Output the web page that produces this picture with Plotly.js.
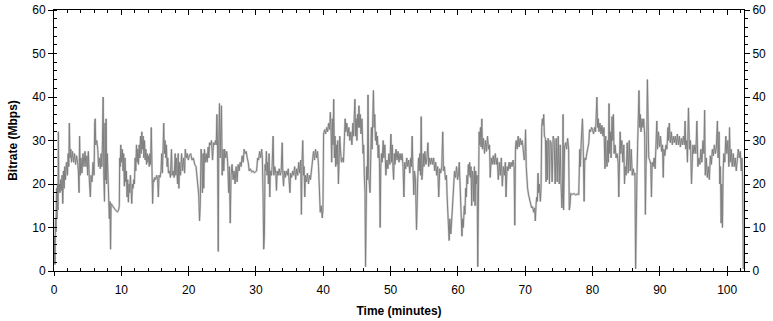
<!DOCTYPE html>
<html>
<head>
<meta charset="utf-8">
<script src="https://cdn.plot.ly/plotly-3.0.1.min.js"></script>
<style>
  html, body { margin: 0; padding: 0; background: #ffffff; }
  #chart { width: 773px; height: 321px; }
</style>
</head>
<body>
<div id="chart"></div>
<script>
// Time (minutes) of each sample
const timeMin = [
  0,0.08,0.15,0.22,0.3,0.38,0.45,0.52,0.6,0.65,
  0.72,0.8,0.9,1,1.1,1.2,1.3,1.4,1.5,1.6,
  1.7,1.85,2,2.1,2.2,2.28,2.38,2.5,2.6,2.75,
  2.9,3.05,3.2,3.35,3.5,3.62,3.72,3.8,3.9,4,
  4.15,4.3,4.45,4.6,4.75,4.9,5,5.1,5.25,5.4,
  5.5,5.65,5.8,5.95,6.05,6.12,6.2,6.35,6.5,6.62,
  6.75,6.88,7,7.12,7.2,7.3,7.4,7.5,7.58,7.66,
  7.74,7.82,7.92,8.02,8.12,8.22,8.32,8.4,8.48,8.65,
  8.85,9.05,9.25,9.45,9.62,9.7,9.76,9.84,9.92,
  10.05,10.15,10.25,10.35,10.45,10.55,10.65,10.75,10.85,10.95,
  11.05,11.15,11.25,11.35,11.45,11.55,11.65,11.75,11.85,11.95,
  12.05,12.15,12.25,12.35,12.45,12.55,12.65,12.75,12.85,12.95,
  13.05,13.15,13.25,13.35,13.45,13.55,13.65,13.75,13.85,13.95,
  14.05,14.15,14.25,14.35,14.45,14.55,14.65,14.75,14.85,14.95,
  15.1,15.25,15.4,15.5,15.6,15.75,15.9,16,16.1,16.2,
  16.3,16.4,16.5,16.6,16.7,16.8,16.9,17,17.15,17.3,
  17.45,17.55,17.7,17.85,18,18.1,18.2,18.35,18.45,18.55,
  18.65,18.8,18.95,19.1,19.25,19.4,19.5,19.65,19.8,19.95,
  20.1,20.3,20.5,20.7,20.9,21.1,21.25,21.4,21.5,21.62,
  21.72,21.85,21.95,22.05,22.15,22.25,22.35,22.45,22.6,22.75,
  22.9,23,23.1,23.25,23.4,23.55,23.7,23.85,24,24.1,
  24.2,24.3,24.4,24.48,24.58,24.68,24.78,24.88,24.98,25.1,
  25.22,25.35,25.5,25.65,25.8,25.95,26.05,26.18,26.3,26.45,
  26.6,26.75,26.9,27.05,27.2,27.35,27.5,27.65,27.8,27.95,
  28.1,28.25,28.4,28.55,28.7,28.85,29,29.15,29.35,29.55,
  29.75,29.95,
  30.1,30.25,30.4,30.55,30.7,30.85,30.95,31.05,31.15,31.25,
  31.35,31.45,31.55,31.65,31.75,31.85,31.95,32.05,32.15,32.3,
  32.4,32.55,32.65,32.8,32.95,33.05,33.15,33.3,33.45,33.6,
  33.75,33.9,34,34.1,34.2,34.35,34.5,34.65,34.8,34.95,
  35.05,35.15,35.3,35.45,35.6,35.75,35.9,36.05,36.2,36.35,
  36.5,36.65,36.75,36.85,36.95,37.05,37.15,37.25,37.35,37.5,
  37.65,37.8,37.95,38.1,38.25,38.4,38.55,38.7,38.85,39,
  39.15,39.3,39.45,39.55,39.7,39.85,39.95,
  40.05,40.2,40.35,40.5,40.65,40.8,40.95,41.05,41.15,41.25,
  41.35,41.45,41.55,41.65,41.75,41.85,41.95,42.05,42.15,42.25,
  42.35,42.45,42.55,42.7,42.85,43,43.15,43.25,43.35,43.5,
  43.65,43.8,43.95,44.1,44.25,44.4,44.5,44.6,44.7,44.8,
  44.9,45,45.1,45.2,45.3,45.4,45.5,45.6,45.75,45.9,
  46,46.1,46.2,46.28,46.36,46.45,46.55,46.65,46.75,46.85,
  46.95,47.05,47.15,47.25,47.35,47.45,47.55,47.65,47.75,47.85,
  47.95,48.05,48.15,48.25,48.35,48.45,48.55,48.65,48.75,48.9,
  49,49.15,49.3,49.45,49.6,49.75,49.9,
  50.05,50.15,50.25,50.35,50.45,50.55,50.65,50.8,50.95,51.1,
  51.25,51.4,51.55,51.7,51.85,51.98,52.1,52.25,52.4,52.55,
  52.7,52.85,53,53.1,53.2,53.3,53.45,53.55,53.7,53.85,
  53.95,54.05,54.15,54.25,54.35,54.45,54.55,54.65,54.75,54.85,
  54.95,55.1,55.25,55.4,55.55,55.65,55.8,55.95,56.1,56.25,
  56.4,56.55,56.7,56.85,57,57.15,57.3,57.45,57.6,57.75,
  57.85,58,58.15,58.3,58.4,58.5,58.6,58.7,58.8,58.95,
  59.05,59.2,59.35,59.5,59.65,59.8,59.95,
  60.1,60.2,60.3,60.4,60.5,60.6,60.7,60.8,60.95,61.05,
  61.15,61.25,61.35,61.45,61.55,61.65,61.75,61.85,61.95,62.05,
  62.15,62.25,62.35,62.45,62.55,62.65,62.75,62.85,62.95,63.05,
  63.15,63.25,63.35,63.45,63.55,63.65,63.8,63.95,64.1,64.25,
  64.4,64.55,64.7,64.8,64.95,65.1,65.25,65.4,65.55,65.7,
  65.85,66,66.15,66.3,66.45,66.6,66.75,66.9,67.05,67.15,
  67.3,67.45,67.6,67.75,67.9,68.05,68.2,68.35,68.45,68.55,
  68.65,68.8,68.95,69.1,69.25,69.4,69.55,69.7,69.85,69.95,
  70.05,70.15,70.25,70.35,70.5,70.65,70.8,70.95,71.1,71.25,
  71.4,71.5,71.6,71.7,71.8,71.9,72,72.1,72.25,72.35,
  72.45,72.55,72.65,72.75,72.85,73,73.1,73.2,73.3,73.4,
  73.5,73.6,73.7,73.85,74,74.15,74.3,74.45,74.6,74.75,
  74.9,75.05,75.2,75.3,75.45,75.55,75.62,75.7,75.85,76,
  76.15,76.3,76.45,76.55,76.65,76.75,77,77.25,77.5,77.75,
  77.95,78.1,78.2,78.3,78.4,78.5,78.6,78.75,78.85,79,
  79.15,79.3,79.45,79.55,79.7,79.85,
  80,80.15,80.3,80.45,80.55,80.65,80.75,80.85,80.95,81.1,
  81.25,81.4,81.55,81.7,81.85,81.95,82.05,82.15,82.25,82.35,
  82.45,82.55,82.65,82.75,82.9,83,83.1,83.2,83.35,83.5,
  83.65,83.8,83.9,84,84.1,84.2,84.35,84.5,84.65,84.75,
  84.85,85,85.15,85.3,85.45,85.6,85.75,85.9,86.05,86.2,
  86.3,86.4,86.5,86.6,86.7,86.8,86.9,87,87.1,87.2,
  87.35,87.5,87.6,87.75,87.85,87.95,88.05,88.15,88.25,88.35,
  88.5,88.65,88.75,88.85,89,89.15,89.3,89.4,89.55,89.65,
  89.8,89.95,
  90.1,90.25,90.4,90.5,90.6,90.75,90.9,91.05,91.2,91.3,
  91.4,91.55,91.7,91.85,92,92.15,92.3,92.45,92.6,92.75,
  92.9,93.05,93.2,93.35,93.5,93.65,93.75,93.85,94,94.1,
  94.25,94.4,94.55,94.7,94.8,94.9,95.05,95.2,95.35,95.5,
  95.65,95.8,95.95,96.1,96.25,96.4,96.55,96.65,96.75,96.9,
  97.05,97.2,97.35,97.5,97.65,97.8,97.95,98.1,98.25,98.4,
  98.55,98.65,98.8,98.9,99,99.1,99.2,99.3,99.4,99.5,
  99.65,99.8,99.95,100.1,100.25,100.35,100.45,100.6,100.75,100.9,
  101.05,101.2,101.35,101.5,101.65,101.8,101.95,102.1,102.2,102.3,
  102.4
];

// Bitrate (Mbps) at each sample time
const bitrateMbps = [
  2,8,1.5,12,9,19,12,20,14,32,
  18,20,18,21,18.5,22,15.5,23,19,24,
  21,25,22,27,24,34,26,28,25,27.5,
  25,27,24.5,26.5,25,23,18,31,22,26,
  22.5,27,24,27.5,24,26.5,22,27.5,21,17,
  22,20.5,25,22,34,35,29,30,28,24,
  26,23.5,27,24,30,40,22,16,34,21,
  35,20,27,22,19,12,16,5,15.5,15,
  14.5,14.2,13.8,13.6,14.2,15,26,24,29,
  25,28,23,27,19.5,26,20.5,23,17,21,
  15.8,20,18,22,19,15.5,20,19,21,20,
  26,23,29,25,28,24.5,29,26,31,27,
  32,28,31,26,30,25.5,28,24.5,27,25,
  26.5,24,27,24.5,33,27,15.5,21,20.5,21.5,
  21,22,21,17,22,21.5,23,27,22.5,28,
  34,27,30,26,29,24,26,22.5,23,21.5,
  28,22,23,21.5,27,22,26,20,27,19,
  25,22,27,23,26,22.5,28,26,27,25.5,
  26.5,27,25.5,26,24.5,24,22,19,17.5,11.5,
  15,28,26,18,27,19,28,25,27,25,
  28.5,26,29.5,29,30,25.5,29.5,29,30,29,
  36,28,4.5,30,38.5,26,35,38,22,28,
  23,28,26,27.5,25,18,24,11,22,24.5,
  21,23,20,24,20.5,24.5,23,25,24,26.5,
  25,28,27,27.5,26,25,23,23.5,22.8,23,
  22.6,22.8,
  23,26,25.5,27.5,26,28,26,18,5,8,
  24.5,23,27.5,22,25,20,27,17,23,22,
  24,31,22,24,22.5,18.5,23,22,23.5,22,
  23,29.5,22,19.5,23,21.5,23,22,23.5,21,
  18,22.5,21.5,23,22,24,21,23.5,22,25,
  22.5,25.5,13,25,30,22,24,17,22,20.5,
  22.5,20,22,21,23.5,26,27.5,25.5,28,26,
  27.5,24,19,13.5,15,12.2,14,
  31.5,32.5,31.5,33,32,34,32.5,36.5,33,25,
  35,29,39.5,26,31,24,29,24.5,30,20,
  27,31,28,25,26,25,31,35,32,34,
  31,33,30,32,29,34,31,36,39.5,31,
  35,30,36,33,38,33,36,31.5,35,27,
  29,22,18,1,22,24,21,40.5,22,20,
  18,26,33,28,35,41.5,33,36,30,32,
  29,31,26,29,25,10,24,27,25,30,
  26,29,22,25.5,23.5,27,24.5,
  31.5,25,29,24,21,27,24.5,28,25.5,27.5,
  25,27,25.5,27,24,17,25,23.5,26,24,
  25.5,22.5,26,24,31,25,17.5,23,21,9.5,
  20,22,26,23,27,22,35.5,21,23,27,
  24,27.5,24.5,26,29.5,24,26,24.5,26,24.5,
  26,23,25,22,24,17,23.5,22.5,24,32,
  23,24,21,22,17,14,10,7,12,8.5,
  11,16,20,23,21.5,24,21,
  22.5,25,21,13,10,8,12,10,15,13,
  19,17,22,20,24.5,22,25,21.5,24,15,
  23,22,16,24,15,23,20,22,1,21,
  32,29,33,28.5,35,28,30.5,27,30,27.5,
  31,28,29,21.5,26,24.5,26.5,24.5,27,24.5,
  26,21,25,22,26,19.5,24,22,25,17,
  24,23,25,23.5,25,24,25.5,24,10.5,28,
  30,28,31,28.5,30.5,29,30,28,25.5,26,
  32.5,24,20,19,17.5,16.5,15.5,14.5,14.8,13.5,
  14.5,11.5,15,17,16,22.5,18,20,16,19,
  33,35,33.5,36,31,30.5,20.5,30,21,30.5,
  29.5,20,30,29.5,20.5,31,30,20,30.5,20.5,
  31,20,29,21,14.5,18,36,14,28.5,29.5,
  28,30.5,28,14,15,17.8,17.6,17.8,17.5,17.7,
  17.6,28,24,29,33,35,30,16,26,25.5,
  27,28.5,29.5,32.5,32,33,
  32.5,31.5,33,32,36,40,33,35,32,34,
  31.5,33.5,31,33,23.5,31,26,24,30,25,
  38.5,27,32,26,35.5,30,36,27,29,26,
  27,25,17,26,32,27,30,25,29,20,
  24,22,29.5,22.5,30,23,28,22,23.5,22,
  22.5,0.5,21,22,29,38,41.5,33,36,32,
  35,33,35,31,13,24,30,44,27,26,
  25.5,24.5,17,25,24,26,23.5,30,34.5,28,
  32,28.5,
  31,27.5,29,21.5,28,26.5,29,28,33,30,
  34,29.5,32,29,31,29.5,31,29,31.5,29,
  31,28.5,30.5,29,31,29,34.5,28,30,25,
  37.5,28,30,20,24,29,27,29,27,34.5,
  24,26,24.5,28,25,30,27,37,22,26,
  21.5,24,21,26.5,24.5,28,26.5,29,27,28.5,
  34.5,26,32,20,24,11,20,10,23,27,
  25,31,27,30,24,33,25,28,24,27,
  24,26,23,25.5,28,26,27.5,23,26,21,
  0.5
];

// Axis tick values
const yTicks = [0, 10, 20, 30, 40, 50, 60];
const xTicks = [0, 10, 20, 30, 40, 50, 60, 70, 80, 90, 100];

const FONT = 'Liberation Sans, Arial, sans-serif';

const halo = {
  type: 'scatter', mode: 'lines',
  x: timeMin, y: bitrateMbps,
  xaxis: 'x', yaxis: 'y',
  line: { color: '#d2d2d2', width: 2.2 },
  hoverinfo: 'skip', showlegend: false
};
const main = {
  type: 'scatter', mode: 'lines',
  x: timeMin, y: bitrateMbps,
  xaxis: 'x2', yaxis: 'y2',
  line: { color: '#7f7f7f', width: 1 },
  hoverinfo: 'skip', showlegend: false
};

const tickFont = { family: FONT, size: 12, color: '#000000' };

const layout = {
  width: 773, height: 321,
  margin: { l: 54, r: 29, t: 10, b: 50 },
  paper_bgcolor: '#ffffff', plot_bgcolor: '#ffffff',
  showlegend: false,
  font: { family: FONT, size: 12, color: '#000000' },
  xaxis: {
    range: [0, 102.5], tickvals: xTicks,
    ticks: 'inside', ticklen: 5, tickcolor: '#000', tickwidth: 1,
    mirror: 'ticks', showline: true, linecolor: '#000', linewidth: 1,
    showgrid: false, zeroline: false,
    minor: { dtick: 2, ticks: 'inside', ticklen: 3, tickcolor: '#000', showgrid: false },
    tickfont: tickFont, ticklabelstandoff: 8,
    title: { text: 'Time (minutes)', font: { family: FONT, size: 12, color: '#000', weight: 'bold' }, standoff: 10 },
    automargin: false
  },
  xaxis2: {
    overlaying: 'x', anchor: 'y', side: 'bottom',
    range: [0, 102.5], tickvals: xTicks,
    ticks: 'outside', ticklen: 4, tickcolor: '#000',
    showticklabels: false, showline: false, showgrid: false, zeroline: false
  },
  yaxis: {
    range: [0, 60], tickvals: yTicks,
    ticks: 'outside', ticklen: 5, tickcolor: '#000', tickwidth: 1,
    showline: true, linecolor: '#000', linewidth: 1,
    showgrid: false, zeroline: false,
    minor: { dtick: 2, ticks: 'inside', ticklen: 3, tickcolor: '#000', showgrid: false },
    tickfont: tickFont,
    title: { text: 'Bitrate (Mbps)', font: { family: FONT, size: 12, color: '#000', weight: 'bold' }, standoff: 12 },
    automargin: false
  },
  yaxis2: {
    overlaying: 'y', side: 'right', anchor: 'x',
    range: [0, 60], tickvals: yTicks,
    ticks: 'outside', ticklen: 5, tickcolor: '#000',
    showline: true, linecolor: '#000', linewidth: 1,
    showgrid: false, zeroline: false,
    minor: { dtick: 2, ticks: 'outside', ticklen: 3, tickcolor: '#000', showgrid: false },
    tickfont: tickFont
  }
};

Plotly.newPlot('chart', [halo, main], layout, { staticPlot: true, displayModeBar: false });
</script>
</body>
</html>
